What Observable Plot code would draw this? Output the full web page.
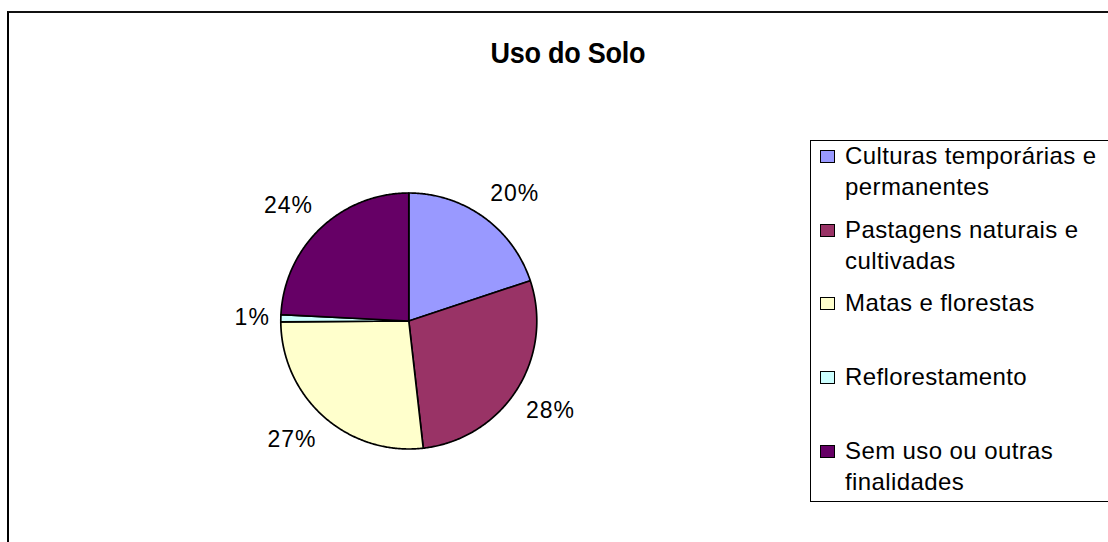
<!DOCTYPE html>
<html>
<head>
<meta charset="utf-8">
<script src="https://cdn.jsdelivr.net/npm/d3@7"></script>
<script src="https://cdn.jsdelivr.net/npm/@observablehq/plot@0.6"></script>
<style>
  html, body { margin: 0; padding: 0; background: #fff; }
  #wrap { position: relative; width: 1108px; height: 542px; overflow: hidden; font-family: "Liberation Sans", Arial, sans-serif; }
  #frame { position: absolute; left: 7px; top: 11px; width: 1200px; height: 600px; border-left: 2px solid #000; border-top: 2px solid #111; }
  #chart { position: absolute; left: 0; top: 0; }
  #title { position: absolute; left: 0; top: 38px; width: 1135px; text-align: center; font-weight: bold; font-size: 30px; line-height: 30px; letter-spacing: -0.3px; color: #000; }
  #title span { display: inline-block; transform: scaleX(0.9); transform-origin: center; }
  #legend { position: absolute; left: 810px; top: 140px; width: 400px; height: 360px; border: 1.5px solid #000; background: #fff; }
  .item { position: absolute; left: 0; width: 300px; }
  .sw { position: absolute; left: 9px; width: 13px; height: 11px; border: 1.5px solid #000; }
  .lab { position: absolute; left: 34px; width: 262px; font-size: 24px; line-height: 31px; letter-spacing: 0.4px; color: #000; }
</style>
</head>
<body>
<div id="wrap">
  <div id="frame"></div>
  <div id="chart"></div>
  <div id="title"><span></span></div>
  <div id="legend"></div>
</div>
<script>
const title = "Uso do Solo";
const categories = [
  "Culturas temporárias e permanentes",
  "Pastagens naturais e cultivadas",
  "Matas e florestas",
  "Reflorestamento",
  "Sem uso ou outras finalidades"
];
const values = [19.9, 28.3, 26.7, 0.9, 24.2];
const colors = ["#9999FF", "#993366", "#FFFFCC", "#CCFFFF", "#660066"];

const total = d3.sum(values);
const R = 128, cx = 408.3, cy = 320.5;
const clamp = v => Math.max(-1, Math.min(1, v));

// slice outlines in unit-circle coordinates
const slicePts = [];
const labels = [];
let cum = 0;
const ctx = document.createElement("canvas").getContext("2d");
ctx.font = "23px 'Liberation Sans', Arial";
values.forEach((v, i) => {
  const a0 = cum / total * 2 * Math.PI;
  cum += v;
  const a1 = cum / total * 2 * Math.PI;
  const n = Math.max(2, Math.ceil((a1 - a0) / (Math.PI / 360)));
  slicePts.push({k: i, x: 0, y: 0});
  for (let j = 0; j <= n; j++) {
    const a = a0 + (a1 - a0) * j / n;
    slicePts.push({k: i, x: Math.sin(a), y: Math.cos(a)});
  }
  slicePts.push({k: i, x: 0, y: 0});
  const am = (a0 + a1) / 2;
  const text = Math.round(v / total * 100) + "%";
  const w = ctx.measureText(text).width + text.length * 1;
  const h = 30;
  const rl = R + 11;
  // anchor point just outside the pie, label box hangs outward from it (pixels)
  const px = Math.sin(am) * rl + clamp(2 * Math.sin(am)) * w / 2;
  const py = Math.cos(am) * rl + clamp(2 * Math.cos(am)) * h / 2;
  labels.push({x: px / R, y: py / R, text});
});

const plot = Plot.plot({
  width: 1108,
  height: 542,
  margin: 0,
  style: {background: "transparent", fontFamily: "'Liberation Sans', Arial, sans-serif", letterSpacing: "1px"},
  x: {domain: [-1, 1], range: [cx - R, cx + R], axis: null},
  y: {domain: [-1, 1], range: [cy + R, cy - R], axis: null},
  color: {domain: categories, range: colors},
  marks: [
    Plot.line(slicePts, {x: "x", y: "y", z: "k", fill: d => categories[d.k], stroke: "#000", strokeWidth: 1.7, strokeLinejoin: "round"}),
    Plot.text(labels, {x: "x", y: "y", text: "text", fontSize: 23, fill: "#000", textAnchor: "middle", lineAnchor: "middle"})
  ]
});
document.getElementById("chart").appendChild(plot);

document.querySelector("#title span").textContent = title;

const legend = document.getElementById("legend");
categories.forEach((c, i) => {
  const item = document.createElement("div");
  item.className = "item";
  item.style.top = (i * 73.7) + "px";
  const sw = document.createElement("div");
  sw.className = "sw";
  sw.style.top = "9px";
  sw.style.background = colors[i];
  const lab = document.createElement("div");
  lab.className = "lab";
  lab.style.top = "-1px";
  lab.textContent = c;
  item.appendChild(sw);
  item.appendChild(lab);
  legend.appendChild(item);
});
</script>
</body>
</html>
